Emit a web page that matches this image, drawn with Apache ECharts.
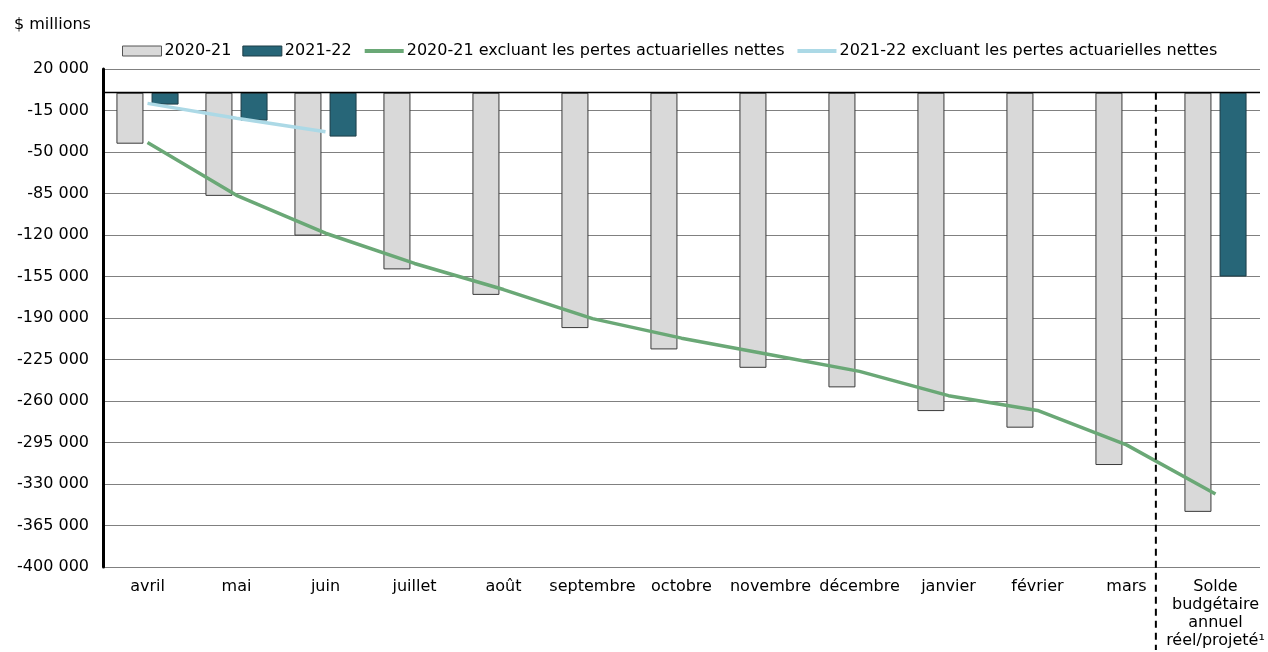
<!DOCTYPE html>
<html>
<head>
<meta charset="utf-8">
<script src="https://cdn.jsdelivr.net/npm/echarts@6/dist/echarts.min.js"></script>
<style>
  html, body { margin: 0; padding: 0; background: #fff; }
  #main { width: 1268px; height: 652px; }
</style>
</head>
<body>
<div id="main"></div>
<script>
// catégories (mois + solde annuel)
const categories = ['avril', 'mai', 'juin', 'juillet', 'août', 'septembre', 'octobre',
  'novembre', 'décembre', 'janvier', 'février', 'mars',
  'Solde\nbudgétaire\nannuel\nréel/projeté¹'];

// soldes cumulatifs, $ millions
const solde2020 = [-43000, -87000, -120500, -149000, -170500, -198500, -216500,
  -232000, -248500, -268500, -282500, -314000, -353500];
const solde2021 = [-10000, -23500, -37000, null, null, null, null,
  null, null, null, null, null, -155000];
const horsPertes2020 = [-42000, -86500, -118500, -144000, -166000, -190500, -207000,
  -221000, -235000, -255500, -268000, -297000, -338500];
const horsPertes2021 = [-9000, -21500, -33000];

const yMin = -400000, yMax = 20000, yStep = 35000;

const fmt = v => (v < 0 ? '-' : '') + String(Math.abs(v)).replace(/\B(?=(\d{3})+(?!\d))/g, ' ');

const font = 'DejaVu Sans, sans-serif';
const chart = echarts.init(document.getElementById('main'));

chart.setOption({
  animation: false,
  textStyle: { fontFamily: font, color: '#000' },
  title: {
    text: '$ millions', left: 9, top: 12,
    textStyle: { fontFamily: font, fontSize: 16, fontWeight: 'normal', color: '#000' }
  },
  legend: {
    left: 117, top: 38,
    itemWidth: 39, itemHeight: 10, itemGap: 11,
    textStyle: { fontFamily: font, fontSize: 16, color: '#000', padding: [0, 0, 0, -2] },
    data: [
      { name: '2020-21', icon: 'rect', itemStyle: { borderWidth: 1, borderColor: '#555' } },
      { name: '2021-22', icon: 'rect', itemStyle: { borderWidth: 1, borderColor: '#1d3d47' } },
      { name: '2020-21 excluant les pertes actuarielles nettes',
        itemStyle: { opacity: 0 }, lineStyle: { width: 4 } },
      { name: '2021-22 excluant les pertes actuarielles nettes',
        itemStyle: { opacity: 0 }, lineStyle: { width: 4 } }
    ]
  },
  grid: { left: 103, right: 8, top: 69, bottom: 85, outerBoundsMode: 'none' },
  xAxis: {
    type: 'category',
    data: categories,
    axisLine: { show: false },
    axisTick: { show: false },
    axisLabel: { fontSize: 16, color: '#000', margin: 11, lineHeight: 18, interval: 0 }
  },
  yAxis: {
    type: 'value',
    min: yMin, max: yMax, interval: yStep,
    axisLine: { show: true, lineStyle: { color: '#000', width: 3 } },
    axisTick: { show: false },
    axisLabel: { fontSize: 16, color: '#000', margin: 14, formatter: fmt },
    splitLine: { lineStyle: { color: '#808080', width: 1.2 } }
  },
  series: [
    {
      name: '2020-21', type: 'bar', data: solde2020,
      barWidth: 27, barGap: '30%',
      itemStyle: { color: '#d9d9d9', borderColor: '#3a3a3a', borderWidth: 1 },
      markLine: {
        silent: true, symbol: 'none', label: { show: false },
        lineStyle: { color: '#000', width: 1.3, type: 'solid' },
        data: [{ yAxis: 0 }]
      }
    },
    {
      name: '2021-22', type: 'bar', data: solde2021,
      barWidth: 27,
      itemStyle: { color: '#276678', borderColor: '#1d3d47', borderWidth: 1 }
    },
    {
      name: '2020-21 excluant les pertes actuarielles nettes', type: 'line',
      data: horsPertes2020, symbol: 'none',
      lineStyle: { color: '#6aa876', width: 3.5 },
      itemStyle: { color: '#6aa876' }
    },
    {
      name: '2021-22 excluant les pertes actuarielles nettes', type: 'line',
      data: horsPertes2021, symbol: 'none',
      lineStyle: { color: '#acd9e6', width: 3.5 },
      itemStyle: { color: '#acd9e6' }
    }
  ]
});

// ligne pointillée séparant les mois du solde annuel
const pMars = chart.convertToPixel({ xAxisIndex: 0 }, 'mars');
const pSolde = chart.convertToPixel({ xAxisIndex: 0 }, categories[12]);
const yZero = chart.convertToPixel({ yAxisIndex: 0 }, 0);
const xSep = pMars + (pSolde - pMars) * 0.33;
chart.setOption({
  graphic: [{
    type: 'line', silent: true, z: 10,
    shape: { x1: xSep, y1: yZero, x2: xSep, y2: 650 },
    style: { stroke: '#000', lineWidth: 2, lineDash: [7, 5] }
  }]
});
</script>
</body>
</html>
